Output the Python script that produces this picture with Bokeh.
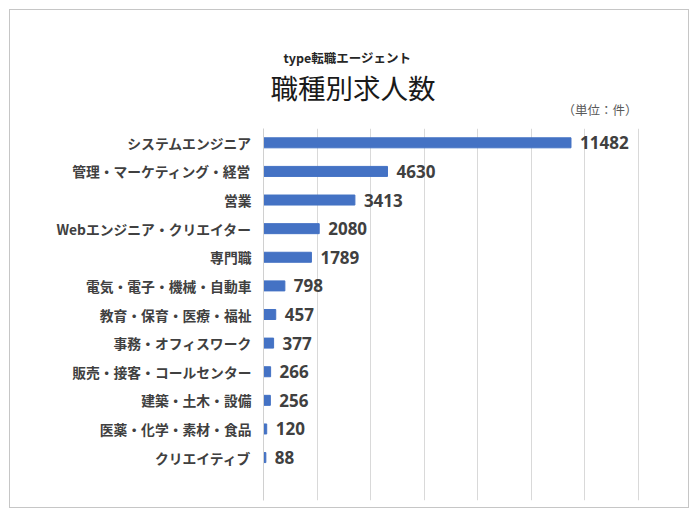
from bokeh.plotting import figure
from bokeh.models import ColumnDataSource, Range1d, FactorRange, SingleIntervalTicker, Title
from bokeh.embed import file_html
from bokeh.resources import INLINE

categories = ["システムエンジニア", "管理・マーケティング・経営", "営業", "Webエンジニア・クリエイター",
              "専門職", "電気・電子・機械・自動車", "教育・保育・医療・福祉", "事務・オフィスワーク",
              "販売・接客・コールセンター", "建築・土木・設備", "医薬・化学・素材・食品", "クリエイティブ"]
values = [11482, 4630, 3413, 2080, 1789, 798, 457, 377, 266, 256, 120, 88]
subtitle = "type転職エージェント"
title = "職種別求人数"
unit = "（単位：件）"

factors = [" "] + categories[::-1]
src = ColumnDataSource(dict(cat=categories, val=values, lab=[str(v) for v in values]))

p = figure(width=698, height=517, output_backend="svg", toolbar_location=None,
           y_range=FactorRange(factors=factors, range_padding=0), x_range=Range1d(0, 14040),
           min_border_left=263, min_border_right=59, min_border_top=128, min_border_bottom=17)
p.border_fill_color = None
p.background_fill_color = None
p.styles = {"outline": "1px solid #c6c6c6", "outline-offset": "-10px", "background-color": "white"}
p.outline_line_color = None
p.hbar(y="cat", right="val", left=0, height=0.35, color="#4472C4", source=src)
p.text(x="val", y="cat", text="lab", source=src, x_offset=9, text_baseline="middle",
       text_font_size="17px", text_font_style="bold", text_color="#404040",
       text_font={"value": "Open Sans"})

p.xaxis.visible = False
p.xgrid.ticker = SingleIntervalTicker(interval=2000)
p.xgrid.grid_line_color = "#d9d9d9"
p.ygrid.grid_line_color = None
ax = p.yaxis[0]
ax.axis_line_color = "#d0d0d0"
ax.major_tick_line_color = None
ax.minor_tick_line_color = None
ax.major_tick_out = 0
ax.major_tick_in = 0
ax.major_label_standoff = 12
ax.major_label_text_font = "Noto Sans CJK JP"
ax.major_label_text_font_size = "13.8px"
ax.major_label_text_font_style = "bold"
ax.major_label_text_color = "#404040"

p.add_layout(Title(text=unit, align="right", offset=2, standoff=19, text_font="Noto Sans CJK JP",
                   text_font_size="12.5px", text_font_style="normal", text_color="#595959"), "above")
p.add_layout(Title(text=title, align="left", offset=7, standoff=-37, text_font="Noto Sans CJK JP",
                   text_font_size="27.5px", text_font_style="normal", text_color="#1a1a1a"), "above")
p.add_layout(Title(text=subtitle, align="left", offset=20, standoff=34, text_font="Noto Sans CJK JP",
                   text_font_size="12.5px", text_font_style="bold", text_color="#262626"), "above")

open("out.html", "w").write(file_html(p, INLINE))
